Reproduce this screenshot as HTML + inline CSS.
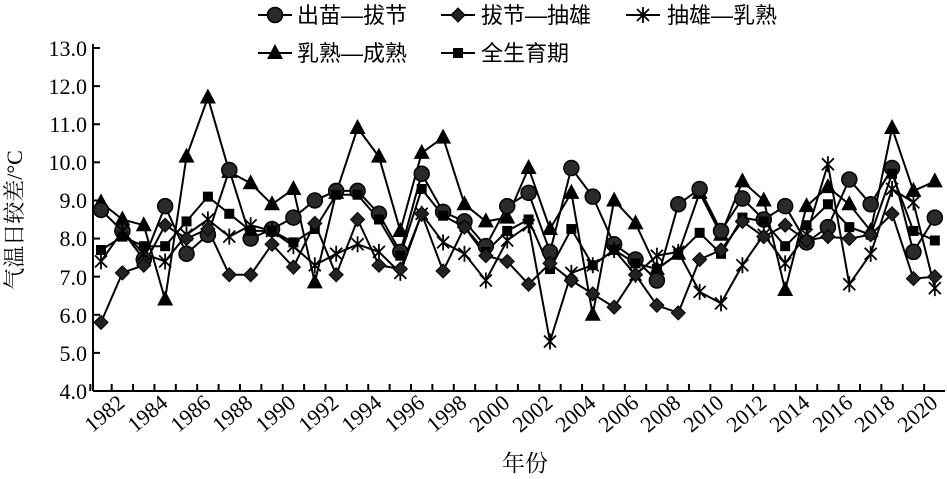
<!DOCTYPE html>
<html><head><meta charset="utf-8"><style>
html,body{margin:0;padding:0;background:#fff;}
svg{display:block;font-family:"Liberation Serif","Noto Serif CJK SC",serif;}
</style></head><body>
<svg id="s" width="947" height="479" viewBox="0 0 947 479" xmlns="http://www.w3.org/2000/svg">
<g id="axes" stroke="#000" stroke-width="2" fill="none"></g>
<g id="data"></g>
<g font-size="22" text-anchor="end" fill="#000">
<text x="87" y="56">13.0</text><text x="87" y="94">12.0</text><text x="87" y="132">11.0</text>
<text x="87" y="170">10.0</text><text x="87" y="208">9.0</text><text x="87" y="246">8.0</text>
<text x="87" y="285">7.0</text><text x="87" y="323">6.0</text><text x="87" y="361">5.0</text>
<text x="87" y="399">4.0</text>
</g>
<text transform="translate(22,220) rotate(-90)" font-size="22" text-anchor="middle">气温日较差/°C</text>
<text x="525" y="471" font-size="23" text-anchor="middle">年份</text>
<g id="xl" font-size="22" text-anchor="end">
<text transform="translate(126,405) rotate(-40)">1982</text>
<text transform="translate(169,405) rotate(-40)">1984</text>
<text transform="translate(212,405) rotate(-40)">1986</text>
<text transform="translate(254,405) rotate(-40)">1988</text>
<text transform="translate(297,405) rotate(-40)">1990</text>
<text transform="translate(340,405) rotate(-40)">1992</text>
<text transform="translate(383,405) rotate(-40)">1994</text>
<text transform="translate(426,405) rotate(-40)">1996</text>
<text transform="translate(468,405) rotate(-40)">1998</text>
<text transform="translate(511,405) rotate(-40)">2000</text>
<text transform="translate(554,405) rotate(-40)">2002</text>
<text transform="translate(597,405) rotate(-40)">2004</text>
<text transform="translate(640,405) rotate(-40)">2006</text>
<text transform="translate(682,405) rotate(-40)">2008</text>
<text transform="translate(725,405) rotate(-40)">2010</text>
<text transform="translate(768,405) rotate(-40)">2012</text>
<text transform="translate(811,405) rotate(-40)">2014</text>
<text transform="translate(854,405) rotate(-40)">2016</text>
<text transform="translate(896,405) rotate(-40)">2018</text>
<text transform="translate(939,405) rotate(-40)">2020</text>
</g>
<g font-size="22" font-family="Liberation Sans,Noto Sans CJK SC,sans-serif">
<text x="297" y="23">出苗—拔节</text>
<text x="481" y="23">拔节—抽雄</text>
<text x="667" y="23">抽雄—乳熟</text>
<text x="297" y="61">乳熟—成熟</text>
<text x="481" y="61">全生育期</text>
</g>
<g id="leg"></g>
</svg>
<script>
var NS="http://www.w3.org/2000/svg";
function el(p,t,a){var e=document.createElementNS(NS,t);for(var k in a)e.setAttribute(k,a[k]);p.appendChild(e);return e;}
var ax=document.getElementById('axes');
var X0=93,X1=945,Y=function(v){return 391-(v-4)*38.11;};
el(ax,'line',{x1:X0,y1:44,x2:X0,y2:391});
el(ax,'line',{x1:X0,y1:391,x2:X1,y2:391});
for(var v=4;v<=13;v++)el(ax,'line',{x1:X0,y1:Y(v),x2:X0+7,y2:Y(v)});
var dx=21.38,px=function(i){return 101+i*dx;};
for(var i=0;i<=40;i++){var x=101-dx/2+i*dx;if(x<=X1)el(ax,'line',{x1:x,y1:391,x2:x,y2:384});}
var D={
c:[8.75,8.2,7.45,8.85,7.6,8.1,9.8,8.0,8.25,8.55,9.0,9.25,9.25,8.65,7.65,9.7,8.7,8.45,7.8,8.85,9.2,7.65,9.85,9.1,7.85,7.45,6.9,8.9,9.3,8.2,9.05,8.5,8.85,7.9,8.3,9.55,8.9,9.85,7.65,8.55],
d:[5.8,7.1,7.3,8.35,8.0,8.25,7.05,7.05,7.85,7.25,8.4,7.05,8.5,7.3,7.2,8.65,7.15,8.3,7.55,7.4,6.8,7.35,6.9,6.55,6.2,7.05,6.25,6.05,7.45,7.7,8.45,8.05,8.35,7.95,8.05,8.0,8.1,8.65,6.95,7.0],
x:[7.4,8.2,7.6,7.4,8.1,8.5,8.05,8.35,8.2,7.8,7.3,7.6,7.85,7.65,7.1,8.65,7.9,7.6,6.9,7.95,8.35,5.3,7.1,7.3,7.7,7.05,7.55,7.65,6.6,6.3,7.3,8.1,7.35,8.1,9.95,6.8,7.6,9.3,8.95,6.7],
t:[8.95,8.5,8.35,6.4,10.15,11.7,9.75,9.45,8.9,9.3,6.85,9.2,10.9,10.15,8.2,10.25,10.65,8.9,8.45,8.55,9.85,8.25,9.2,6.0,9.0,8.4,7.2,7.6,9.2,8.1,9.5,9.0,6.65,8.85,9.35,8.9,8.2,10.9,9.25,9.5],
s:[7.7,8.05,7.8,7.8,8.45,9.1,8.65,8.2,8.2,7.9,8.25,9.15,9.15,8.5,7.55,9.3,8.6,8.3,7.65,8.2,8.5,7.2,8.25,7.3,7.7,7.35,7.2,7.6,8.15,7.6,8.55,8.45,7.8,8.35,8.9,8.3,8.1,9.7,8.2,7.95]};
function mk(g,k,x,y){
 if(k=='c')el(g,'circle',{cx:x,cy:y,r:7.5,fill:'#2a2a2a',stroke:'#000','stroke-width':1.5});
 else if(k=='d')el(g,'polygon',{points:(x)+','+(y-7)+' '+(x+7)+','+y+' '+x+','+(y+7)+' '+(x-7)+','+y,fill:'#222',stroke:'#000','stroke-width':1});
 else if(k=='t')el(g,'polygon',{points:x+','+(y-9)+' '+(x+8)+','+(y+6)+' '+(x-8)+','+(y+6),fill:'#000'});
 else if(k=='s')el(g,'rect',{x:x-5,y:y-5,width:10,height:10,fill:'#000'});
 else{var a={stroke:'#000','stroke-width':1.8};
  el(g,'line',Object.assign({x1:x-6,y1:y-6,x2:x+6,y2:y+6},a));el(g,'line',Object.assign({x1:x-6,y1:y+6,x2:x+6,y2:y-6},a));
  el(g,'line',Object.assign({x1:x,y1:y-8,x2:x,y2:y+8},a));}
}
var g=document.getElementById('data');
['t','c','s','x','d'].forEach(function(k){
 var pts=D[k].map(function(v,i){return px(i).toFixed(1)+','+Y(v).toFixed(1);}).join(' ');
 el(g,'polyline',{points:pts,fill:'none',stroke:'#000','stroke-width':2});
});
['t','c','s','x','d'].forEach(function(k){D[k].forEach(function(v,i){mk(g,k,px(i),Y(v));});});
var L=document.getElementById('leg');
[[258,15,'c'],[441,15,'d'],[626,15,'x'],[258,53,'t'],[441,53,'s']].forEach(function(a){
 el(L,'line',{x1:a[0],y1:a[1],x2:a[0]+34,y2:a[1],stroke:'#000','stroke-width':2});mk(L,a[2],a[0]+17,a[1]);});
</script>
</body></html>
